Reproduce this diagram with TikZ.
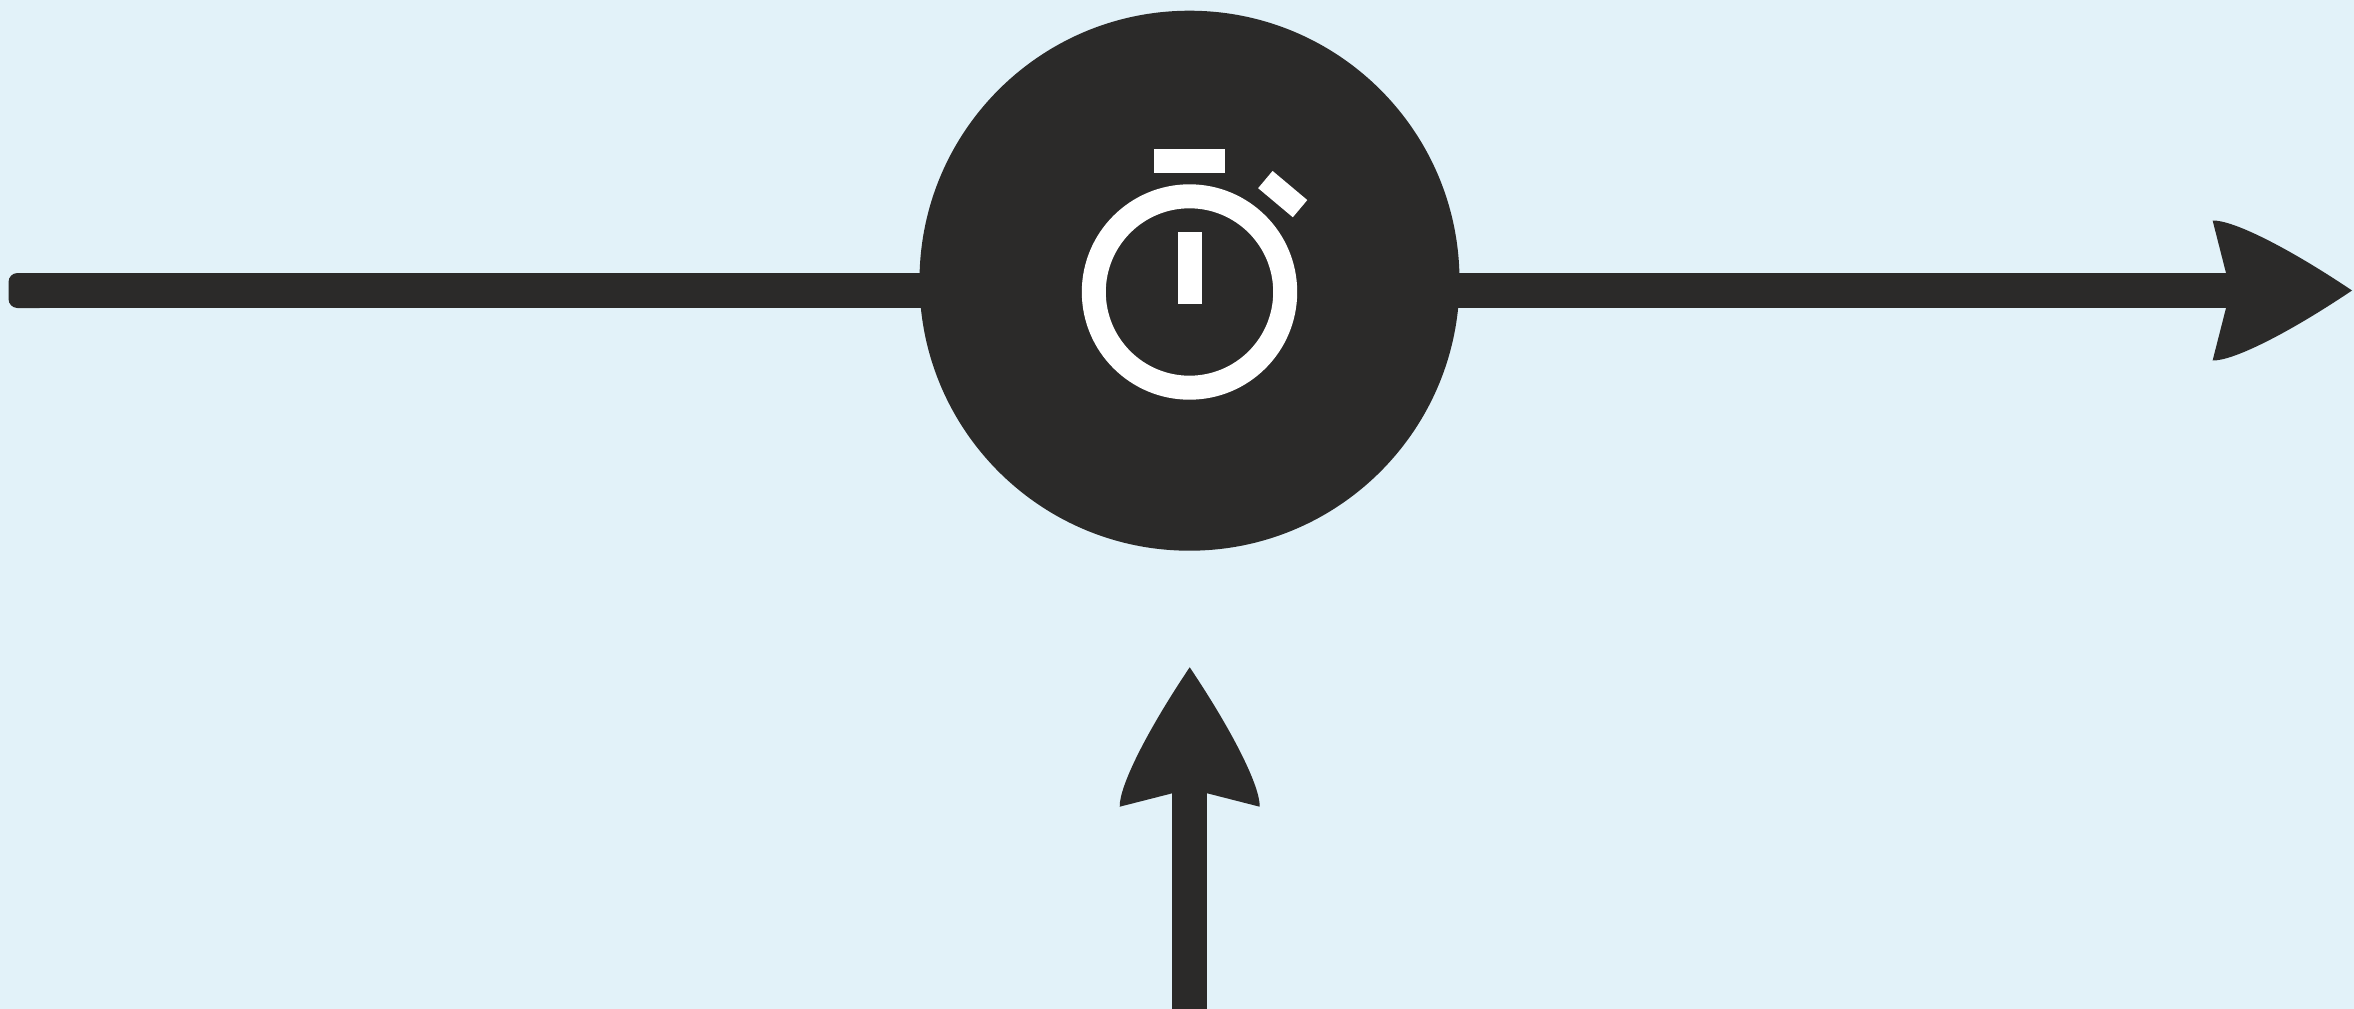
\documentclass[tikz,border=0pt]{standalone}
\usetikzlibrary{arrows.meta}
\definecolor{paper}{HTML}{E2F2F9}
\definecolor{ink}{HTML}{2B2A29}
\pgfdeclarelayer{bg}
\pgfdeclarelayer{shafts}
\pgfsetlayers{bg,shafts,main}
\pgfdeclarearrow{
  name=Leaf,
  setup code={
    \pgfarrowssettipend{126pt}
    \pgfarrowssetbackend{-13.4pt}
    \pgfarrowssetlineend{2pt}
    \pgfarrowssetvisualbackend{0pt}
    \pgfarrowshullpoint{126pt}{0pt}
    \pgfarrowshullpoint{-13.4pt}{70pt}
    \pgfarrowshullpoint{-13.4pt}{-70pt}
  },
  drawing code={
    \pgfpathmoveto{\pgfqpoint{126pt}{0pt}}
    \pgfpathcurveto{\pgfqpoint{62pt}{43pt}}{\pgfqpoint{7pt}{70.5pt}}{\pgfqpoint{-13.4pt}{70pt}}
    \pgfpathlineto{\pgfqpoint{0pt}{17.5pt}}
    \pgfpathlineto{\pgfqpoint{0pt}{-17.5pt}}
    \pgfpathlineto{\pgfqpoint{-13.4pt}{-70pt}}
    \pgfpathcurveto{\pgfqpoint{7pt}{-70.5pt}}{\pgfqpoint{62pt}{-43pt}}{\pgfqpoint{126pt}{0pt}}
    \pgfpathclose
    \pgfusepathqfill
  }
}
\tikzset{
  shaft/.style={draw=ink,line width=35pt,line cap=butt,-{Leaf}},
  plainshaft/.style={draw=ink,line width=35pt,line cap=butt},
  iconbar/.style={fill=white,draw=none,inner sep=0pt,outer sep=0pt,rectangle},
}
\begin{document}
\begin{tikzpicture}[x=1pt,y=-1pt]
  \useasboundingbox (0,0) rectangle (2354,1009);
  \begin{pgfonlayer}{bg}
    \fill[paper] (0,0) rectangle (2354,1009);
  \end{pgfonlayer}
  % hub
  \node[circle,fill=ink,draw=none,inner sep=0pt,outer sep=0pt,minimum size=540pt] (hub) at (1189.5,280.7) {};
  % stopwatch icon
  \node[circle,draw=white,line width=24pt,inner sep=0pt,outer sep=0pt,minimum size=191.4pt] (ring) at (1189.5,292) {};
  \node[iconbar,minimum width=71.5pt,minimum height=23.7pt] (crown) at (1189.5,160.8) {};
  \node[iconbar,minimum width=23.7pt,minimum height=72.6pt] (hand) at (1189.8,268) {};
  \node[iconbar,minimum width=45.3pt,minimum height=22.5pt,rotate=-40] (pusher) at (1282.7,194.1) {};
  % connectors
  \node[rectangle,fill=ink,draw=none,inner sep=0pt,outer sep=0pt,rounded corners=9pt,minimum width=40pt,minimum height=35pt] (startcap) at (28.5,290.5) {};
  \coordinate (rightTip) at (2352,290.5);
  \coordinate (bottomEnd) at (1189.7,1012);
  \coordinate (upTip) at (1189.7,667.3);
  \begin{pgfonlayer}{shafts}
    \draw[plainshaft] (startcap.center) -- (hub.center |- startcap.center);
    \draw[shaft] (hub.center |- rightTip) -- (rightTip);
    \draw[shaft] (bottomEnd) -- (upTip);
  \end{pgfonlayer}
\end{tikzpicture}
\end{document}
